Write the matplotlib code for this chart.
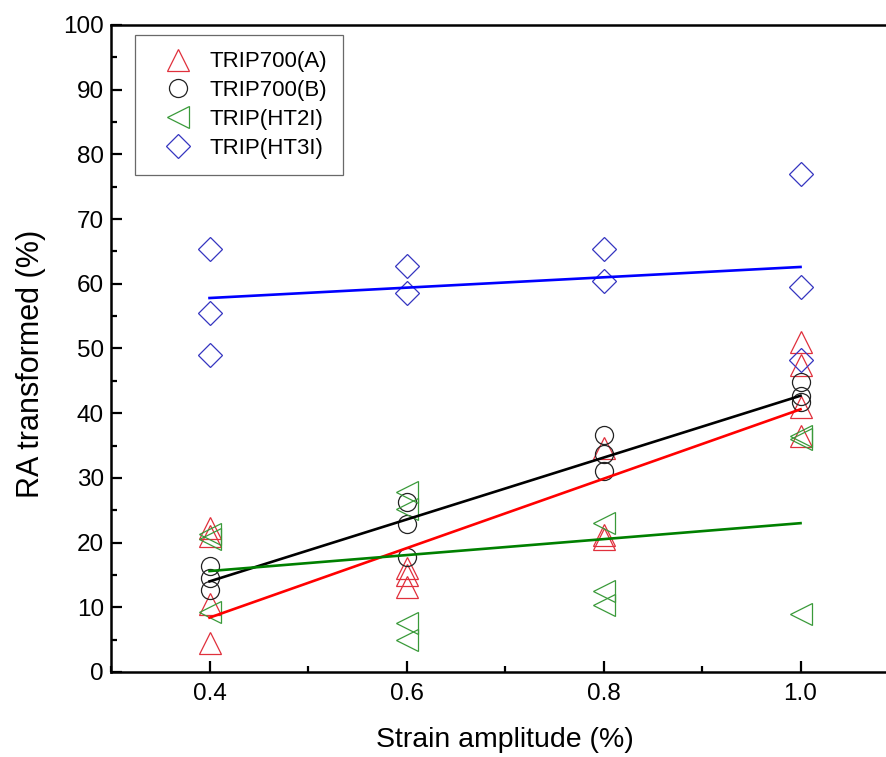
import matplotlib
matplotlib.use("Agg")
import matplotlib.pyplot as plt
from matplotlib.ticker import MultipleLocator

plt.rcParams['font.family'] = ['Liberation Sans', 'DejaVu Sans']

# strain amplitude (%) and RA transformed (%) for each steel
x_a = [0.4, 0.4, 0.4, 0.4, 0.6, 0.6, 0.6, 0.8, 0.8, 0.8, 1.0, 1.0, 1.0, 1.0]
y_a = [22.3, 21.0, 10.5, 4.5, 16.0, 15.0, 13.2, 34.6, 21.2, 20.5, 51.0, 47.5, 41.0, 36.5]

x_b = [0.4, 0.4, 0.4, 0.6, 0.6, 0.6, 0.8, 0.8, 0.8, 1.0, 1.0, 1.0]
y_b = [16.4, 14.6, 12.6, 26.3, 22.8, 17.8, 36.6, 33.7, 31.0, 44.8, 42.6, 41.8]

x_ht2 = [0.4, 0.4, 0.4, 0.6, 0.6, 0.6, 0.6, 0.8, 0.8, 0.8, 1.0, 1.0, 1.0]
y_ht2 = [21.3, 20.5, 9.2, 27.8, 25.2, 7.5, 5.0, 23.0, 12.5, 10.3, 36.5, 36.0, 9.0]

x_ht3 = [0.4, 0.4, 0.4, 0.6, 0.6, 0.8, 0.8, 1.0, 1.0, 1.0]
y_ht3 = [65.4, 55.5, 49.0, 62.8, 58.5, 65.3, 60.5, 77.0, 59.5, 48.2]

# linear fit lines, read at the two ends
fit_x = [0.4, 1.0]
fit_a = [8.4, 40.6]
fit_b = [14.0, 42.7]
fit_ht2 = [15.6, 23.0]
fit_ht3 = [57.8, 62.6]

fig = plt.figure(figsize=(8.86, 7.57), dpi=100)
ax = fig.add_axes([0.1253, 0.1123, 0.8894, 0.8547])

mk = dict(linestyle='none', markerfacecolor='none', markeredgewidth=0.9)
ax.plot(x_a, y_a, marker='^', markersize=15.5, markeredgecolor='#e0303c', label='TRIP700(A)', **mk)
ax.plot(x_b, y_b, marker='o', markersize=13, markeredgecolor='#222222', label='TRIP700(B)', **mk)
ax.plot(x_ht2, y_ht2, marker='<', markersize=15.5, markeredgecolor='#3a9a3a', label='TRIP(HT2I)', **mk)
ax.plot(x_ht3, y_ht3, marker='D', markersize=12.5, markeredgecolor='#3535c0', label='TRIP(HT3I)', **mk)

ax.plot(fit_x, fit_a, color='#ff0000', lw=1.9)
ax.plot(fit_x, fit_b, color='black', lw=1.9)
ax.plot(fit_x, fit_ht2, color='#008000', lw=1.9)
ax.plot(fit_x, fit_ht3, color='#0000ff', lw=1.9)

ax.set_xlim(0.3, 1.1)
ax.set_ylim(0, 100)
ax.set_xticks([0.4, 0.6, 0.8, 1.0])
ax.set_xticklabels(['0.4', '0.6', '0.8', '1.0'])
ax.xaxis.set_minor_locator(MultipleLocator(0.1))
ax.yaxis.set_major_locator(MultipleLocator(10))
ax.yaxis.set_minor_locator(MultipleLocator(5))
ax.tick_params(which='both', direction='in', labelsize=17.5, width=1.6)
ax.tick_params(which='major', length=8)
ax.tick_params(which='minor', length=4)
ax.tick_params(axis='x', which='major', pad=8)
ax.tick_params(axis='y', which='major', pad=5)
for s in ax.spines.values():
    s.set_linewidth(1.8)

ax.set_xlabel('Strain amplitude (%)', fontsize=20.5, labelpad=16)
ax.set_ylabel('RA transformed (%)', fontsize=22)
ax.yaxis.set_label_coords(-0.083, 0.476)

leg = ax.legend(loc='upper left', bbox_to_anchor=(0.030, 0.985), fontsize=16,
                frameon=True, fancybox=False, edgecolor='#444444',
                handletextpad=0.2, borderpad=0.75, labelspacing=0.35,
                handlelength=2.4, borderaxespad=0)
leg.get_frame().set_linewidth(0.9)

fig.savefig('out.png', dpi=100)
